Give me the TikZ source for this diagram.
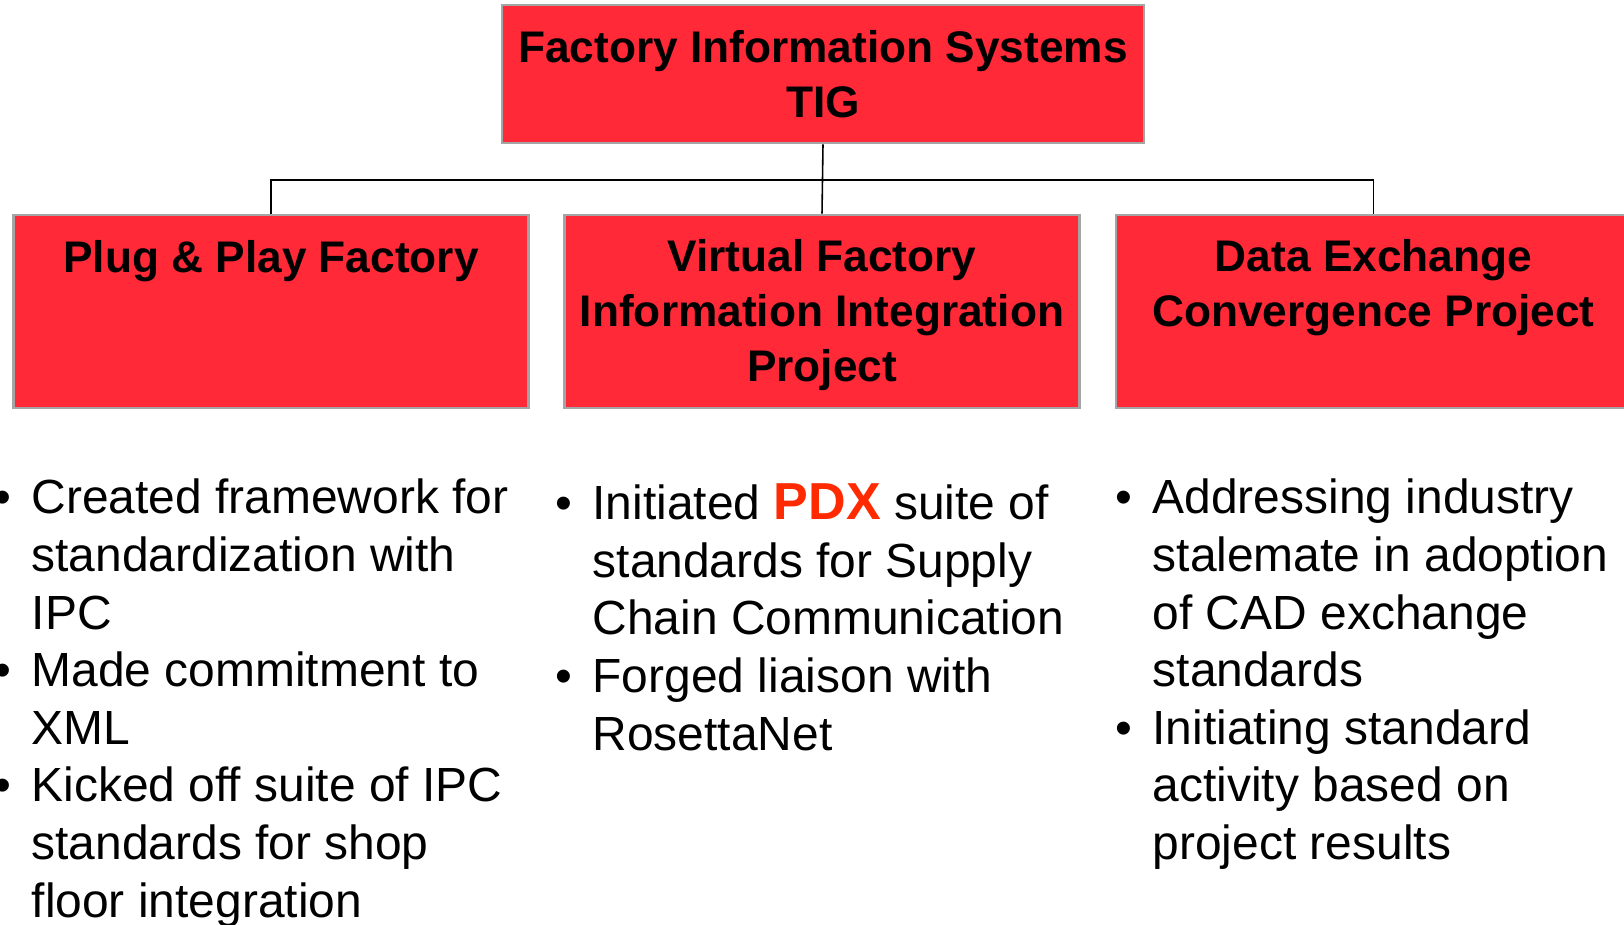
\documentclass[tikz,border=0pt]{standalone}
\usepackage{fontspec}
\setmainfont{Liberation Sans}
\definecolor{boxred}{RGB}{255,41,56}
\definecolor{boxedge}{RGB}{165,165,165}
\definecolor{pdxred}{RGB}{255,42,0}
\newcommand{\bul}{\llap{\textbullet\hspace{5.9pt}}}

\begin{document}
\begin{tikzpicture}[x=0.01cm, y=-0.01cm,
    box/.style={draw=boxedge, line width=0.7pt, fill=boxred, inner sep=0pt},
    head/.style={font=\bfseries\fontsize{12.58pt}{15.5pt}\selectfont, align=center, inner sep=0pt},
    items/.style={font=\fontsize{13.63pt}{16.39pt}\selectfont, align=left, inner sep=0pt, anchor=base west},
    link/.style={line width=0.45pt}]
  \useasboundingbox (0,0) rectangle (1624,924);
  \node[box, head, minimum width=6.42cm, minimum height=1.38cm] (fis) at (823,74)
    {Factory Information Systems\\TIG};
  \node[box, minimum width=5.145cm, minimum height=1.93cm] (pp) at (271,311.5) {};
  \node[box, minimum width=5.145cm, minimum height=1.93cm] (vf) at (822,311.5) {};
  \node[box, minimum width=5.145cm, minimum height=1.93cm] (dx) at (1373.5,311.5) {};
  % multi-line nodes sit on the baseline of their last line
  \node[head, anchor=base] (pp text) at (271,272) {Plug \& Play Factory};
  \node[head, anchor=base] (vf text) at (822,381) {Virtual Factory\\Information Integration\\Project};
  \node[head, anchor=base] (dx text) at (1373.5,326.5) {Data Exchange\\Convergence Project};
  \begin{scope}[link]
    \coordinate (bus) at (822,180);
    \draw (fis.south) -- (vf.north);
    \draw (pp.north) |- (bus) -| (dx.north);
  \end{scope}
  \node[items] (pp list) at (31,917.2)
    {\bul Created framework for\\standardization with\\IPC\\
     \bul Made commitment to\\XML\\
     \bul Kicked off suite of IPC\\standards for shop\\floor integration};
  \node[items] (vf list) at (592,750)
    {\bul Initiated {\color{pdxred}\bfseries\fontsize{14.8pt}{16.39pt}\selectfont PDX} suite of\\standards for Supply\\Chain Communication\\
     \bul Forged liaison with\\RosettaNet};
  \node[items] (dx list) at (1152,859.6)
    {\bul Addressing industry\\stalemate in adoption\\of CAD exchange\\standards\\
     \bul Initiating standard\\activity based on\\project results};
\end{tikzpicture}
\end{document}
